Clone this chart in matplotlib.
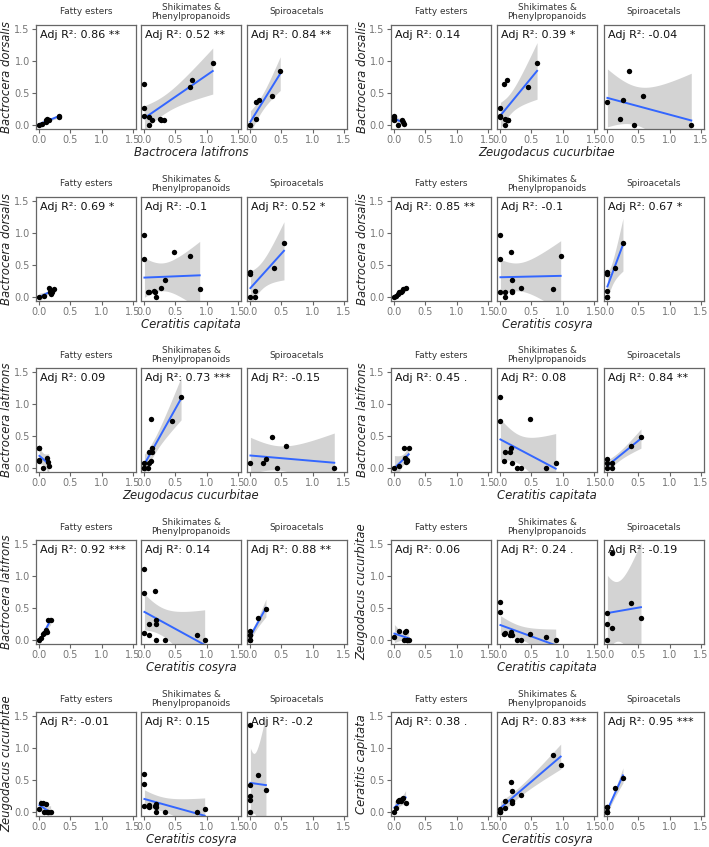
import numpy as np
import matplotlib
matplotlib.use("Agg")
import matplotlib.pyplot as plt

plt.rcParams['font.family'] = ['DejaVu Sans']

classes = ["Fatty esters", "Shikimates &\nPhenylpropanoids", "Spiroacetals"]
species = ["Bactrocera dorsalis", "Bactrocera latifrons", "Zeugodacus cucurbitae",
           "Ceratitis capitata", "Ceratitis cosyra"]

# Fatty esters (one value per compound)
bd_fatty = [0.00, 0.03, 0.06, 0.09, 0.08, 0.10, 0.14, 0.13]
bl_fatty = [0.00, 0.04, 0.10, 0.16, 0.11, 0.13, 0.32, 0.31]
zc_fatty = [0.05, 0.15, 0.14, 0.13, 0.00, 0.00, 0.00, 0.00]
ccap_fatty = [0.00, 0.07, 0.18, 0.17, 0.20, 0.21, 0.15, 0.23]
ccos_fatty = [0.00, 0.03, 0.05, 0.10, 0.07, 0.12, 0.18, 0.14]

# Shikimates & Phenylpropanoids
bd_shik = [0.96, 0.60, 0.71, 0.64, 0.13, 0.27, 0.15, 0.00, 0.10, 0.08, 0.09, 0.09]
bl_shik = [1.10, 0.73, 0.76, 0.00, 0.08, 0.00, 0.00, 0.08, 0.25, 0.12, 0.26, 0.32]
zc_shik = [0.59, 0.44, 0.10, 0.05, 0.00, 0.00, 0.00, 0.08, 0.08, 0.10, 0.12, 0.13]
ccap_shik = [0.00, 0.00, 0.47, 0.74, 0.89, 0.33, 0.27, 0.18, 0.15, 0.05, 0.07, 0.17]
ccos_shik = [0.00, 0.00, 0.17, 0.97, 0.85, 0.18, 0.33, 0.08, 0.19, 0.00, 0.08, 0.19]

# Spiroacetals
bd_spiro = [0.84, 0.46, 0.40, 0.37, 0.10, 0.00, 0.00]
bl_spiro = [0.48, 0.34, 0.14, 0.09, 0.09, 0.00, 0.00]
zc_spiro = [0.35, 0.58, 0.25, 0.00, 0.20, 0.42, 1.35]
ccap_spiro = [0.54, 0.38, 0.00, 0.00, 0.08, 0.00, 0.08]
ccos_spiro = [0.25, 0.13, 0.00, 0.00, 0.00, 0.00, 0.00]

data = [
    [bd_fatty, bd_shik, bd_spiro],
    [bl_fatty, bl_shik, bl_spiro],
    [zc_fatty, zc_shik, zc_spiro],
    [ccap_fatty, ccap_shik, ccap_spiro],
    [ccos_fatty, ccos_shik, ccos_spiro],
]

# (y species, x species)
pairs = [(0, 1), (0, 2), (0, 3), (0, 4), (1, 2), (1, 3), (1, 4), (2, 3), (2, 4), (3, 4)]
r2_labels = [
    ["Adj R²: 0.86 **", "Adj R²: 0.52 **", "Adj R²: 0.84 **"],
    ["Adj R²: 0.14", "Adj R²: 0.39 *", "Adj R²: -0.04"],
    ["Adj R²: 0.69 *", "Adj R²: -0.1", "Adj R²: 0.52 *"],
    ["Adj R²: 0.85 **", "Adj R²: -0.1", "Adj R²: 0.67 *"],
    ["Adj R²: 0.09", "Adj R²: 0.73 ***", "Adj R²: -0.15"],
    ["Adj R²: 0.45 .", "Adj R²: 0.08", "Adj R²: 0.84 **"],
    ["Adj R²: 0.92 ***", "Adj R²: 0.14", "Adj R²: 0.88 **"],
    ["Adj R²: 0.06", "Adj R²: 0.24 .", "Adj R²: -0.19"],
    ["Adj R²: -0.01", "Adj R²: 0.15", "Adj R²: -0.2"],
    ["Adj R²: 0.38 .", "Adj R²: 0.83 ***", "Adj R²: 0.95 ***"],
]
ticks = [0.0, 0.5, 1.0, 1.5]
tick_labels = ["0.0", "0.5", "1.0", "1.5"]

# t 0.975 quantiles (df = 1..30)
t975 = [12.706, 4.303, 3.182, 2.776, 2.571, 2.447, 2.365, 2.306, 2.262, 2.228,
        2.201, 2.179, 2.160, 2.145, 2.131, 2.120, 2.110, 2.101, 2.093, 2.086,
        2.080, 2.074, 2.069, 2.064, 2.060, 2.056, 2.052, 2.048, 2.045, 2.042]

W, H = 709, 847
fig = plt.figure(figsize=(W / 100, H / 100), dpi=100)

col_lefts = [[36, 141, 247], [391, 497, 604]]
row_tops = [25, 197, 368, 540, 712]
pw, ph = 100, 104
grey = "#666666"
lim = (-0.055, 1.555)

for gi, (yi, xi) in enumerate(pairs):
    row, col = gi // 2, gi % 2
    top = row_tops[row]
    for ci in range(3):
        left = col_lefts[col][ci]
        ax = fig.add_axes([left / W, 1 - (top + ph) / H, pw / W, ph / H])
        x = np.array(data[xi][ci], dtype=float)
        y = np.array(data[yi][ci], dtype=float)
        n = len(x)
        b1, b0 = np.polyfit(x, y, 1)
        xs = np.linspace(x.min(), x.max(), 80)
        yh = b0 + b1 * xs
        resid = y - (b0 + b1 * x)
        s = np.sqrt(np.sum(resid ** 2) / (n - 2))
        sxx = np.sum((x - x.mean()) ** 2)
        se = s * np.sqrt(1 / n + (xs - x.mean()) ** 2 / sxx)
        t = t975[n - 3]
        ax.fill_between(xs, yh - t * se, yh + t * se, color="#d3d3d3", lw=0, zorder=1)
        ax.plot(xs, yh, color="#3366FF", lw=1.4, zorder=2)
        ax.scatter(x, y, s=15, color="black", zorder=3, linewidths=0)
        ax.set_xlim(*lim)
        ax.set_ylim(*lim)
        ax.set_xticks(ticks)
        ax.set_xticklabels(tick_labels)
        ax.set_yticks(ticks)
        ax.tick_params(labelsize=7.0, colors=grey, labelcolor="#777777",
                       length=3, width=0.8, pad=1.5)
        if ci == 0:
            ax.set_yticklabels(tick_labels)
            ax.set_ylabel(species[yi], fontsize=8.4, style="italic", color="#222222")
            ax.yaxis.set_label_coords(-0.225, 0.5)
        else:
            ax.set_yticklabels([])
            ax.tick_params(axis="y", length=0)
        for sp in ax.spines.values():
            sp.set_color(grey)
            sp.set_linewidth(0.9)
        ax.text(0.04, 0.9, r2_labels[gi][ci], transform=ax.transAxes,
                fontsize=8.0, ha="left", va="center", zorder=5, color="#111111")
        ax.text(0.5, 1 + 13 / ph, classes[ci], transform=ax.transAxes,
                fontsize=6.4, ha="center", va="center", color="#333333",
                linespacing=1.05)
        if ci == 1:
            ax.set_xlabel(species[xi], fontsize=8.4, style="italic", color="#222222")
            ax.xaxis.set_label_coords(0.5, -0.165)

fig.savefig("out.png", dpi=100)
